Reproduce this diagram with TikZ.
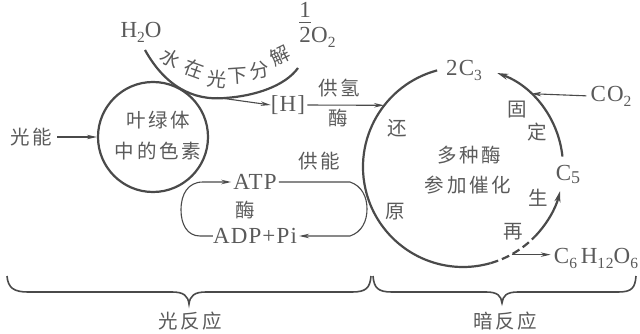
\documentclass[tikz,border=0pt]{standalone}
\usepackage{fontspec}
\setmainfont[LetterSpace=5]{Liberation Serif}
\newfontfamily\cjk[LetterSpace=14]{Noto Sans CJK SC}
\usetikzlibrary{arrows.meta,calc}
\definecolor{ln}{HTML}{4A4A4A}
\definecolor{tx}{HTML}{5A5A5A}
\newcommand\sbt[1]{\raisebox{-5pt}{\fontsize{15.5}{15.5}\selectfont #1}}
\begin{document}
\begin{tikzpicture}[x=1pt,y=-1pt,
  lat/.style={text=tx,font=\fontsize{23}{25}\selectfont,inner sep=0pt},
  zh/.style={text=tx,font=\cjk\fontsize{19.5}{21}\selectfont,inner sep=0pt},
  thickline/.style={draw=ln,line width=2.2pt},
  thinline/.style={draw=ln,line width=1.1pt},
  bracel/.style={draw=ln,line width=1.6pt},
  tip/.style={-{Stealth[length=10pt,width=4.5pt]}},
  bigtip/.style={-{Stealth[length=11pt,width=6pt]}},
]
\useasboundingbox (0,0) rectangle (640,334);

% ---------- light reaction ----------
\node[circle,draw=ln,line width=2.2pt,minimum size=110pt,inner sep=0pt] (chl) at (153,137) {};
\node[zh] (t1) at (158,120) {叶绿体};
\node[zh] (t2) at (158,151) {中的色素};
\node[zh] (light) at (31,137) {光能};
\draw[thinline,tip,shorten <=5pt] (light.east) -- (chl.west);

\node[lat,anchor=base] (h2o) at (141,38) {H\sbt{2}O};
\node[lat,anchor=base west] (o2) at (299,43) {\shortstack{1\\[1pt]\rule{12pt}{0.8pt}\\[2pt]2}O\sbt{2}};
\draw[thickline] (145,50) .. controls (165,86) and (193,101) .. (225,98)
  .. controls (255,96) and (285,86) .. (298,68);
\node[lat] (H) at (288,105) {[H]};
\draw[thinline,tip] (217,97.5) -- (H.west);

\node[zh,rotate=-32] (w1) at (171,58) {水};
\node[zh,rotate=-20] (w2) at (194,69) {在};
\node[zh,rotate=-6] (w3) at (217,79) {光};
\node[zh,rotate=4] (w4) at (238,76) {下};
\node[zh,rotate=12] (w5) at (260,70) {分};
\node[zh,rotate=26] (w6) at (280,56) {解};

\node[lat] (atp) at (255,182) {ATP};
\node[lat] (adp) at (255,236) {ADP+Pi};
\node[zh] (enz2) at (245,210) {酶};
\node[zh] (gn) at (319,161) {供能};
\draw[thinline,tip] (adp.west) -- (200,236) .. controls (187,236) and (181,224) .. (181,210)
  .. controls (181,194) and (188,182) .. (203,182) -- ([xshift=-2pt]atp.west);
\draw[thinline,tip] ([xshift=2pt]atp.east) -- (350,182) .. controls (362,186) and (367,197) .. (367,209)
  .. controls (367,221) and (362,232) .. (350,236) -- ([xshift=2pt]adp.east);

% ---------- dark reaction ----------
\node[circle,minimum size=200pt,inner sep=0pt] (dark) at (463,167) {};
\draw[thickline] ($(dark.center)+(-105:100)$) arc[start angle=-105,end angle=-286,radius=100];
\draw[thickline,dash pattern=on 8pt off 4pt] ($(dark.center)+(-286:100)$) arc[start angle=-286,end angle=-316,radius=100];
\draw[thickline,bigtip] ($(dark.center)+(-316:100)$) arc[start angle=-316,end angle=-346,radius=100];
\draw[thickline,bigtip] ($(dark.center)+(-6:100)$) arc[start angle=-6,end angle=-70,radius=100];

\node[lat] (c3) at (464,70) {2C\sbt{3}};
\node[lat] (c5) at (568,174) {C\raisebox{-3pt}{\fontsize{18}{18}\selectfont 5}};
\node[lat] (co2) at (611,96) {CO\sbt{2}};
\draw[thinline,tip,shorten <=4pt] (co2.west) -- (dark.47);
\node[lat] (glc) at (596,258) {C\sbt{6}\,H\sbt{12}O\sbt{6}};
\draw[thinline,tip,shorten >=3pt] (dark.-61) -- (dark.-61 -| glc.west);

\node[zh] (gq) at (339,88) {供氢};
\node[zh] (enz1) at (338,118) {酶};
\draw[thinline,tip,shorten <=2pt] (H.east) -- (dark.142);

\node[zh] (r1) at (397,128) {还};
\node[zh] (r2) at (395,212) {原};
\node[zh] (f1) at (517,110) {固};
\node[zh] (f2) at (537,132) {定};
\node[zh] (s1) at (538,198) {生};
\node[zh] (s2) at (513,232) {再};
\node[zh] (m1) at (469,155) {多种酶};
\node[zh] (m2) at (468,185) {参加催化};

% ---------- braces ----------
\draw[bracel] (7,276) .. controls (8,288) and (14,292) .. (28,292) -- (172,292)
  .. controls (184,292) and (188,296) .. (189,304) .. controls (190,296) and (194,292) .. (206,292)
  -- (352,292) .. controls (366,292) and (370,288) .. (371,276);
\draw[bracel] (373,276) .. controls (374,288) and (378,292) .. (392,292) -- (486,292)
  .. controls (498,292) and (501,296) .. (502,303) .. controls (503,296) and (506,292) .. (518,292)
  -- (618,292) .. controls (632,292) and (635,288) .. (636,276);
\node[zh] (lr) at (190,321) {光反应};
\node[zh] (dr) at (505,321) {暗反应};
\end{tikzpicture}
\end{document}
